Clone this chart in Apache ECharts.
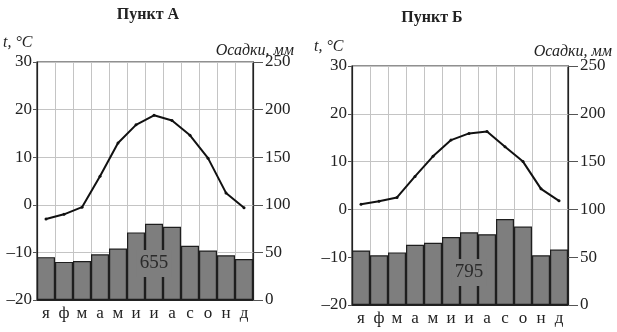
<!DOCTYPE html>
<html>
<head>
<meta charset="utf-8">
<script src="https://cdn.jsdelivr.net/npm/echarts@6/dist/echarts.min.js"></script>
<style>html,body{margin:0;padding:0;background:#fff}#c{width:617px;height:332px}</style>
</head>
<body>
<div id="c"></div>
<script>
var months = ['я','ф','м','а','м','и','и','а','с','о','н','д'];
var tempA = [-3, -2, -0.5, 6, 13, 16.8, 18.8, 17.7, 14.6, 9.8, 2.5, -0.6];
var precipA = [45, 40, 41, 48, 54, 71, 80, 77, 57, 52, 47, 43];
var tempB = [1.1, 1.7, 2.5, 6.9, 11.1, 14.5, 15.9, 16.3, 13.1, 10.0, 4.3, 1.8];
var precipB = [57, 52, 55, 63, 65, 71, 76, 74, 90, 82, 52, 58];
var totalA = '655', totalB = '795';
var titles = ['Пункт А', 'Пункт Б'];
var tempTicks = {min: -20, max: 30, interval: 10};
var precipTicks = {min: 0, max: 250, interval: 50};

var FONT = '"Liberation Serif", "DejaVu Serif", serif';
var chart = echarts.init(document.getElementById('c'), null, {renderer: 'canvas'});
var grids = [
  {left: 37, top: 62, width: 216, height: 238},
  {left: 352, top: 66, width: 216, height: 239}
];
var option = {
  backgroundColor: '#fff',
  animation: false,
  grid: grids.map(function (g) {
    return Object.assign({show: true, borderColor: '#222', borderWidth: 1.2, containLabel: false}, g);
  }),
  xAxis: [0, 1].map(function (i) {
    return {
      type: 'category', gridIndex: i, data: months, boundaryGap: true,
      axisLine: {show: true, onZero: false, lineStyle: {color: '#222', width: 1.2}},
      axisTick: {show: false},
      axisLabel: {color: '#222', fontFamily: FONT, fontSize: 17, margin: 5, interval: 0},
      splitLine: {show: true, lineStyle: {color: '#c4c4c4', width: 1}}
    };
  }),
  yAxis: [],
  series: [],
  graphic: []
};
[0, 1].forEach(function (i) {
  option.yAxis.push({
    type: 'value', gridIndex: i, position: 'left',
    min: tempTicks.min, max: tempTicks.max, interval: tempTicks.interval,
    axisLine: {show: true, lineStyle: {color: '#222', width: 1.2}},
    axisTick: {show: true, length: 4, lineStyle: {color: '#555'}},
    axisLabel: {color: '#222', fontFamily: FONT, fontSize: 17, margin: 5,
      formatter: function (v) { return String(v).replace('-', '\u2013'); }},
    splitLine: {show: true, lineStyle: {color: '#c4c4c4', width: 1}}
  });
  option.yAxis.push({
    type: 'value', gridIndex: i, position: 'right',
    min: precipTicks.min, max: precipTicks.max, interval: precipTicks.interval,
    axisLine: {show: true, lineStyle: {color: '#222', width: 1.2}},
    axisTick: {show: true, length: 10, lineStyle: {color: '#555'}},
    axisLabel: {color: '#222', fontFamily: FONT, fontSize: 17, margin: 12},
    splitLine: {show: false}
  });
});
function labelSeries(gi, yi, vals, total, dist) {
  return {type: 'bar', xAxisIndex: gi, yAxisIndex: yi, z: 6, barGap: '-100%', barCategoryGap: '0%',
    silent: true,
    data: vals.map(function (v, k) { return k === 6 ? v : '-'; }),
    itemStyle: {color: 'rgba(0,0,0,0)', borderWidth: 0},
    label: {show: true, position: 'insideBottom', distance: dist, formatter: total,
      fontFamily: FONT, fontSize: 19, color: '#2a2a2a', backgroundColor: '#7e7e7e',
      padding: [4, 3, 4, 3]}};
}
option.series = [
  {type: 'bar', xAxisIndex: 0, yAxisIndex: 1, data: precipA, barCategoryGap: '0%', barGap: '-100%',
    itemStyle: {color: '#7e7e7e', borderColor: '#1e1e1e', borderWidth: 1.2}},
  labelSeries(0, 1, precipA, totalA, 23),
  {type: 'line', xAxisIndex: 0, yAxisIndex: 0, data: tempA, symbol: 'circle', symbolSize: 3,
    lineStyle: {color: '#111', width: 2}, itemStyle: {color: '#111'}},
  {type: 'bar', xAxisIndex: 1, yAxisIndex: 3, data: precipB, barCategoryGap: '0%', barGap: '-100%',
    itemStyle: {color: '#7e7e7e', borderColor: '#1e1e1e', borderWidth: 1.2}},
  labelSeries(1, 3, precipB, totalB, 19),
  {type: 'line', xAxisIndex: 1, yAxisIndex: 2, data: tempB, symbol: 'circle', symbolSize: 3,
    lineStyle: {color: '#111', width: 2}, itemStyle: {color: '#111'}}
];
function txt(x, y, s, opt) {
  return {type: 'text', x: x, y: y, style: Object.assign({
    text: s, fill: '#222', font: '16px ' + FONT, textAlign: 'left', textVerticalAlign: 'middle'}, opt || {})};
}
option.graphic = [
  txt(148, 15, titles[0], {font: 'bold 16px ' + FONT, textAlign: 'center'}),
  txt(432, 18, titles[1], {font: 'bold 16px ' + FONT, textAlign: 'center'}),
  txt(3, 43, 't, °C', {font: 'italic 16px ' + FONT}),
  txt(294, 51, 'Осадки, мм', {font: 'italic 16px ' + FONT, textAlign: 'right'}),
  txt(314, 47, 't, °C', {font: 'italic 16px ' + FONT}),
  txt(612, 52, 'Осадки, мм', {font: 'italic 16px ' + FONT, textAlign: 'right'})
];
chart.setOption(option);
</script>
</body>
</html>
